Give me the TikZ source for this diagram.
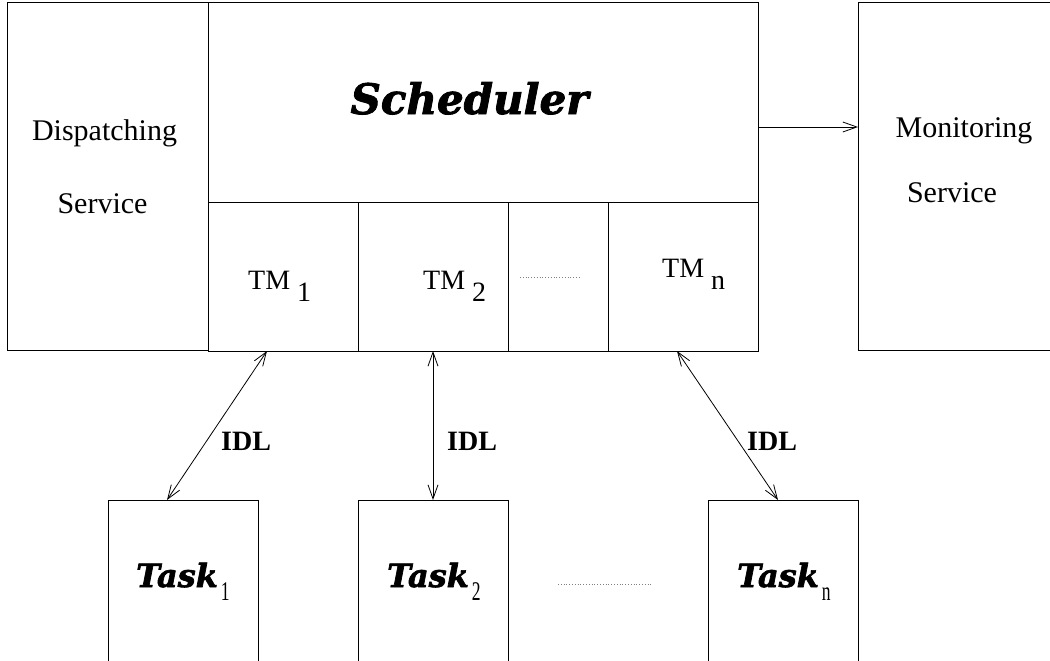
\documentclass[tikz,border=0pt]{standalone}
\usepackage{fontspec}
\setmainfont{Liberation Serif}
\newfontfamily\headfont{DejaVu Serif}[BoldItalicFeatures={FakeBold=2}]
\usetikzlibrary{arrows.meta}
\tikzset{
box/.style={draw, rectangle, line width=1pt, inner sep=0pt, outer sep=0pt},
plain/.style={font=\fontsize{30}{36}\selectfont, inner sep=0pt, anchor=base},
tmtext/.style={font=\fontsize{28}{34}\selectfont, inner sep=0pt, anchor=base west},
idl/.style={font=\fontsize{28}{34}\selectfont\bfseries, inner sep=0pt, anchor=base west},
tasktext/.style={font=\fontsize{32}{38}\selectfont\headfont\bfseries\itshape, inner sep=0pt, anchor=base west},
link/.style={<->, line width=0.8pt},
gap/.style={gray, dotted, line width=0.8pt},
}
\newcommand\tmsub[1]{\raisebox{-12pt}{#1}}
\newcommand\tasksub[1]{\hspace{3pt}\raisebox{-13pt}{\rmfamily\mdseries\upshape\fontsize{27}{30}\selectfont\scalebox{0.65}[1]{#1}}}
\begin{document}
\begin{tikzpicture}[x=1pt, y=-1pt, >={Straight Barb[length=14pt,width=10pt]}]
\useasboundingbox (0,0) rectangle (1050,661);
\clip (0,0) rectangle (1050,661);
% the boxes
\node[box, minimum width=201pt, minimum height=347pt] (disp) at (107.5,176.5) {};
\node[box, minimum width=550pt, minimum height=199pt] (sched) at (483,102.5) {};
\foreach \n/\x/\w in {1/283/150, 2/433/150, gap/558/100, n/683/150}
  \node[box, minimum width=\w pt, minimum height=149pt] (tm\n) at (\x,276.5) {};
\node[box, minimum width=212pt, minimum height=347pt] (mon) at (964,176.5) {};
\foreach \i/\x in {1/183, 2/433, n/783}
  \node[box, minimum width=150pt, minimum height=200pt, anchor=north] (task\i) at (\x,500) {};
% the texts
\node[plain] (dispA) at (104.5,140) {Dispatching};
\node[plain] (dispB) at (102.5,213) {Service};
\node[plain] (monA) at (964,137) {Monitoring};
\node[plain] (monB) at (952,202) {Service};
\node[font=\fontsize{42}{48}\selectfont\headfont\bfseries\itshape, inner sep=0pt, anchor=base] (schedtext) at (469.5,114) {Scheduler};
\node[tmtext] (tmtext1) at (248,289) {TM \tmsub{1}};
\node[tmtext] (tmtext2) at (423,289) {TM \tmsub{2}};
\node[tmtext] (tmtextn) at (662,277) {TM \tmsub{n}};
\node[tasktext] (tasktext1) at (136,587) {Task\tasksub{1}};
\node[tasktext] (tasktext2) at (387,587) {Task\tasksub{2}};
\node[tasktext] (tasktextn) at (737,587) {Task\tasksub{n}};
\node[idl] (idl1) at (221,450) {IDL};
\node[idl] (idl2) at (447,450) {IDL};
\node[idl] (idln) at (747,450) {IDL};
% the dots
\draw[gap] ([xshift=-38pt,yshift=-0.5pt]tmgap.center) -- ([xshift=23pt,yshift=-0.5pt]tmgap.center);
\draw[gap] ([xshift=50pt]task2.east |- tasktext2.mid) -- ([xshift=-56pt]taskn.west |- tasktextn.mid);
% the arrows
\coordinate (schedout) at ([yshift=-24.5pt]sched.east);
\draw[->, line width=0.8pt] (schedout) -- (schedout -| mon.west);
\draw[link] ([xshift=-16pt]tm1.south) -- ([xshift=-16pt]task1.north);
\draw[link] (tm2.south) -- (task2.north);
\draw[link] ([xshift=-6pt]tmn.south) -- ([xshift=-5pt]taskn.north);
\end{tikzpicture}
\end{document}
